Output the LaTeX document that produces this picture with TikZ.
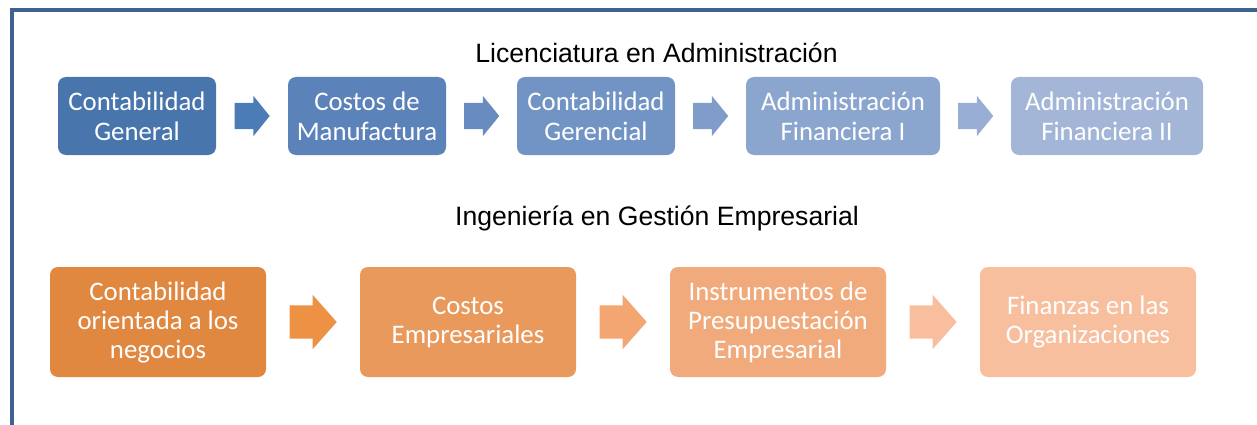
\documentclass[tikz,border=0pt]{standalone}
\usepackage{fontspec}
\setmainfont{Carlito}
\newfontfamily\titlefont{Liberation Sans}
\usetikzlibrary{shapes.arrows, calc}

\definecolor{marco}{RGB}{63,99,144}
\definecolor{azulA}{RGB}{71,117,172}
\definecolor{azulB}{RGB}{91,131,186}
\definecolor{azulC}{RGB}{114,148,196}
\definecolor{azulD}{RGB}{138,165,206}
\definecolor{azulE}{RGB}{163,182,215}
\definecolor{flechaA}{RGB}{76,124,182}
\definecolor{flechaB}{RGB}{104,139,192}
\definecolor{flechaC}{RGB}{128,157,202}
\definecolor{flechaD}{RGB}{152,174,212}
\definecolor{naranjaA}{RGB}{224,135,64}
\definecolor{naranjaB}{RGB}{233,153,92}
\definecolor{naranjaC}{RGB}{241,170,124}
\definecolor{naranjaD}{RGB}{248,191,159}
\definecolor{flechaE}{RGB}{237,145,68}
\definecolor{flechaF}{RGB}{243,166,114}
\definecolor{flechaG}{RGB}{248,190,158}

\begin{document}
\begin{tikzpicture}[
    x=1pt, y=-1pt,
    caja/.style={rounded corners=8pt, inner sep=0pt, align=center, text=white,
        font=\fontsize{26.8}{30}\selectfont},
    cajaA/.style={caja, minimum height=78pt},
    cajaB/.style={caja, minimum width=216pt, minimum height=110pt,
        font=\fontsize{26.8}{29}\selectfont},
    flecha/.style={single arrow, anchor=tail, inner xsep=0pt, inner ysep=13pt,
        single arrow head indent=0pt, minimum height=35pt,
        single arrow head extend=7pt, single arrow tip angle=102},
    flechaG/.style={single arrow, anchor=tail, inner xsep=0pt, inner ysep=16.5pt,
        single arrow head indent=0pt, minimum height=47pt,
        single arrow head extend=10.5pt, single arrow tip angle=97},
    titulo/.style={font=\titlefont\fontsize{26.6}{30}\selectfont, anchor=base}
]
    \useasboundingbox (0,0) rectangle (1257,425);

    % marco
    \draw[marco, line width=4pt] (12,430) -- (12,10) -- (1262,10);

    % Licenciatura en Administracion
    \node[titulo] (t1) at (656.5,63) {Licenciatura en Administración};
    \node[cajaA, fill=azulA, minimum width=158pt] (la1) at (137,116) {Contabilidad\\General};
    \node[cajaA, fill=azulB, minimum width=158pt] (la2) at (367,116) {Costos de\\Manufactura};
    \node[cajaA, fill=azulC, minimum width=158pt] (la3) at (596,116) {Contabilidad\\Gerencial};
    \node[cajaA, fill=azulD, minimum width=194pt] (la4) at (843,116) {Administración\\Financiera I};
    \node[cajaA, fill=azulE, minimum width=192pt] (la5) at (1107,116) {Administración\\Financiera II};
    \node[flecha, fill=flechaA] (fa1) at ($(la1.east)!0.5!(la2.west)+(-17.5,0)$) {};
    \node[flecha, fill=flechaB] (fa2) at ($(la2.east)!0.5!(la3.west)+(-17.5,0)$) {};
    \node[flecha, fill=flechaC] (fa3) at ($(la3.east)!0.5!(la4.west)+(-17.5,0)$) {};
    \node[flecha, fill=flechaD] (fa4) at ($(la4.east)!0.5!(la5.west)+(-17.5,0)$) {};

    % Ingenieria en Gestion Empresarial
    \node[titulo] (t2) at (657,225) {Ingeniería en Gestión Empresarial};
    \node[cajaB, fill=naranjaA] (ig1) at (158,322) {Contabilidad\\orientada a los\\negocios};
    \node[cajaB, fill=naranjaB] (ig2) at (468,322) {Costos\\Empresariales};
    \node[cajaB, fill=naranjaC] (ig3) at (778,322) {Instrumentos de\\Presupuestación\\Empresarial};
    \node[cajaB, fill=naranjaD] (ig4) at (1088,322) {Finanzas en las\\Organizaciones};
    \node[flechaG, fill=flechaE] (fi1) at ($(ig1.east)!0.5!(ig2.west)+(-23.5,0)$) {};
    \node[flechaG, fill=flechaF] (fi2) at ($(ig2.east)!0.5!(ig3.west)+(-23.5,0)$) {};
    \node[flechaG, fill=flechaG] (fi3) at ($(ig3.east)!0.5!(ig4.west)+(-23.5,0)$) {};
\end{tikzpicture}
\end{document}
